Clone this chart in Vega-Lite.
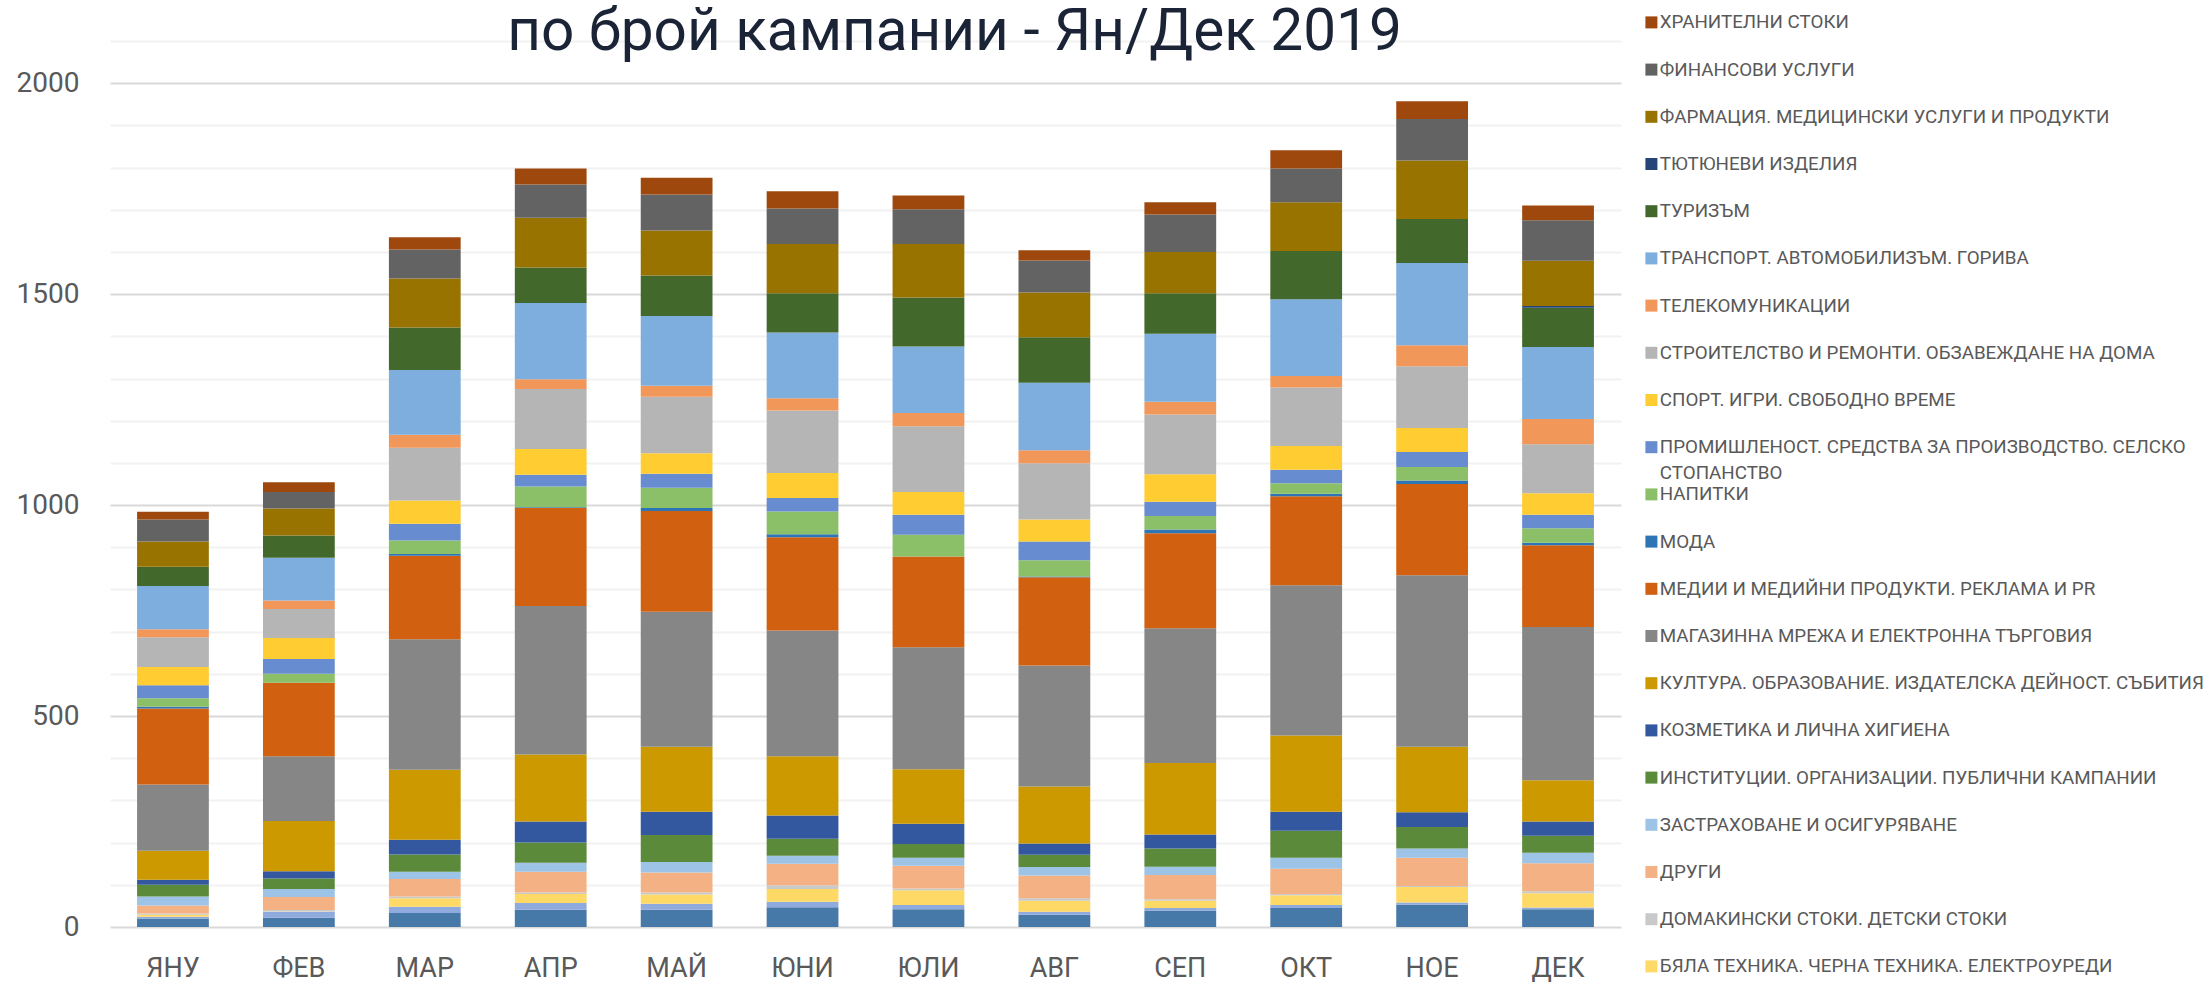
{"$schema":"https://vega.github.io/schema/vega-lite/v6.json","width":1511,"height":886,"autosize":{"type":"none"},"padding":{"left":110,"top":41,"right":585,"bottom":56},"background":"#ffffff","view":{"stroke":null},
"title":{"text":"по брой кампании - Ян/Дек 2019","anchor":"middle","frame":"group","dx":89,"offset":-95,"baseline":"alphabetic","font":"Roboto","fontSize":58.5,"fontWeight":"normal","color":"#1a2436"},
"datasets":{"series":[
{"s":1,"name":"СЕРИЯ А"},{"s":2,"name":"СЕРИЯ Б"},{"s":3,"name":"БЯЛА ТЕХНИКА. ЧЕРНА ТЕХНИКА. ЕЛЕКТРОУРЕДИ"},{"s":4,"name":"ДОМАКИНСКИ СТОКИ. ДЕТСКИ СТОКИ"},{"s":5,"name":"ДРУГИ"},{"s":6,"name":"ЗАСТРАХОВАНЕ И ОСИГУРЯВАНЕ"},{"s":7,"name":"ИНСТИТУЦИИ. ОРГАНИЗАЦИИ. ПУБЛИЧНИ КАМПАНИИ"},{"s":8,"name":"КОЗМЕТИКА И ЛИЧНА ХИГИЕНА"},{"s":9,"name":"КУЛТУРА. ОБРАЗОВАНИЕ. ИЗДАТЕЛСКА ДЕЙНОСТ. СЪБИТИЯ"},{"s":10,"name":"МАГАЗИННА МРЕЖА И ЕЛЕКТРОННА ТЪРГОВИЯ"},{"s":11,"name":"МЕДИИ И МЕДИЙНИ ПРОДУКТИ. РЕКЛАМА И PR"},{"s":12,"name":"МОДА"},{"s":13,"name":"НАПИТКИ"},{"s":14,"name":"ПРОМИШЛЕНОСТ. СРЕДСТВА ЗА ПРОИЗВОДСТВО. СЕЛСКО СТОПАНСТВО"},{"s":15,"name":"СПОРТ. ИГРИ. СВОБОДНО ВРЕМЕ"},{"s":16,"name":"СТРОИТЕЛСТВО И РЕМОНТИ. ОБЗАВЕЖДАНЕ НА ДОМА"},{"s":17,"name":"ТЕЛЕКОМУНИКАЦИИ"},{"s":18,"name":"ТРАНСПОРТ. АВТОМОБИЛИЗЪМ. ГОРИВА"},{"s":19,"name":"ТУРИЗЪМ"},{"s":20,"name":"ТЮТЮНЕВИ ИЗДЕЛИЯ"},{"s":21,"name":"ФАРМАЦИЯ. МЕДИЦИНСКИ УСЛУГИ И ПРОДУКТИ"},{"s":22,"name":"ФИНАНСОВИ УСЛУГИ"},{"s":23,"name":"ХРАНИТЕЛНИ СТОКИ"}]},
"data":{"values":[
{"m":"ЯНУ","s":1,"v":20},{"m":"ЯНУ","s":2,"v":4},{"m":"ЯНУ","s":3,"v":5},{"m":"ЯНУ","s":4,"v":3},{"m":"ЯНУ","s":5,"v":19},{"m":"ЯНУ","s":6,"v":21},{"m":"ЯНУ","s":7,"v":28},{"m":"ЯНУ","s":8,"v":12},{"m":"ЯНУ","s":9,"v":69},{"m":"ЯНУ","s":10,"v":157},{"m":"ЯНУ","s":11,"v":180},{"m":"ЯНУ","s":12,"v":4},{"m":"ЯНУ","s":13,"v":20},{"m":"ЯНУ","s":14,"v":31},{"m":"ЯНУ","s":15,"v":43},{"m":"ЯНУ","s":16,"v":71},{"m":"ЯНУ","s":17,"v":19},{"m":"ЯНУ","s":18,"v":102},{"m":"ЯНУ","s":19,"v":46},{"m":"ЯНУ","s":20,"v":0},{"m":"ЯНУ","s":21,"v":60},{"m":"ЯНУ","s":22,"v":52},{"m":"ЯНУ","s":23,"v":18},
{"m":"ФЕВ","s":1,"v":22},{"m":"ФЕВ","s":2,"v":14},{"m":"ФЕВ","s":3,"v":1},{"m":"ФЕВ","s":4,"v":3},{"m":"ФЕВ","s":5,"v":31},{"m":"ФЕВ","s":6,"v":19},{"m":"ФЕВ","s":7,"v":25},{"m":"ФЕВ","s":8,"v":17},{"m":"ФЕВ","s":9,"v":119},{"m":"ФЕВ","s":10,"v":154},{"m":"ФЕВ","s":11,"v":174},{"m":"ФЕВ","s":12,"v":0},{"m":"ФЕВ","s":13,"v":21},{"m":"ФЕВ","s":14,"v":35},{"m":"ФЕВ","s":15,"v":50},{"m":"ФЕВ","s":16,"v":69},{"m":"ФЕВ","s":17,"v":20},{"m":"ФЕВ","s":18,"v":101},{"m":"ФЕВ","s":19,"v":53},{"m":"ФЕВ","s":20,"v":0},{"m":"ФЕВ","s":21,"v":64},{"m":"ФЕВ","s":22,"v":39},{"m":"ФЕВ","s":23,"v":23},
{"m":"МАР","s":1,"v":33},{"m":"МАР","s":2,"v":15},{"m":"МАР","s":3,"v":20},{"m":"МАР","s":4,"v":4},{"m":"МАР","s":5,"v":42},{"m":"МАР","s":6,"v":17},{"m":"МАР","s":7,"v":41},{"m":"МАР","s":8,"v":35},{"m":"МАР","s":9,"v":166},{"m":"МАР","s":10,"v":309},{"m":"МАР","s":11,"v":198},{"m":"МАР","s":12,"v":4},{"m":"МАР","s":13,"v":32},{"m":"МАР","s":14,"v":40},{"m":"МАР","s":15,"v":55},{"m":"МАР","s":16,"v":125},{"m":"МАР","s":17,"v":31},{"m":"МАР","s":18,"v":153},{"m":"МАР","s":19,"v":101},{"m":"МАР","s":20,"v":0},{"m":"МАР","s":21,"v":116},{"m":"МАР","s":22,"v":69},{"m":"МАР","s":23,"v":29},
{"m":"АПР","s":1,"v":41},{"m":"АПР","s":2,"v":16},{"m":"АПР","s":3,"v":21},{"m":"АПР","s":4,"v":4},{"m":"АПР","s":5,"v":49},{"m":"АПР","s":6,"v":21},{"m":"АПР","s":7,"v":48},{"m":"АПР","s":8,"v":50},{"m":"АПР","s":9,"v":159},{"m":"АПР","s":10,"v":352},{"m":"АПР","s":11,"v":232},{"m":"АПР","s":12,"v":2},{"m":"АПР","s":13,"v":49},{"m":"АПР","s":14,"v":28},{"m":"АПР","s":15,"v":61},{"m":"АПР","s":16,"v":142},{"m":"АПР","s":17,"v":23},{"m":"АПР","s":18,"v":181},{"m":"АПР","s":19,"v":84},{"m":"АПР","s":20,"v":0},{"m":"АПР","s":21,"v":118},{"m":"АПР","s":22,"v":79},{"m":"АПР","s":23,"v":38},
{"m":"МАЙ","s":1,"v":41},{"m":"МАЙ","s":2,"v":14},{"m":"МАЙ","s":3,"v":22},{"m":"МАЙ","s":4,"v":5},{"m":"МАЙ","s":5,"v":47},{"m":"МАЙ","s":6,"v":25},{"m":"МАЙ","s":7,"v":64},{"m":"МАЙ","s":8,"v":55},{"m":"МАЙ","s":9,"v":154},{"m":"МАЙ","s":10,"v":320},{"m":"МАЙ","s":11,"v":239},{"m":"МАЙ","s":12,"v":7},{"m":"МАЙ","s":13,"v":48},{"m":"МАЙ","s":14,"v":33},{"m":"МАЙ","s":15,"v":49},{"m":"МАЙ","s":16,"v":134},{"m":"МАЙ","s":17,"v":26},{"m":"МАЙ","s":18,"v":165},{"m":"МАЙ","s":19,"v":96},{"m":"МАЙ","s":20,"v":0},{"m":"МАЙ","s":21,"v":107},{"m":"МАЙ","s":22,"v":85},{"m":"МАЙ","s":23,"v":40},
{"m":"ЮНИ","s":1,"v":47},{"m":"ЮНИ","s":2,"v":13},{"m":"ЮНИ","s":3,"v":30},{"m":"ЮНИ","s":4,"v":9},{"m":"ЮНИ","s":5,"v":51},{"m":"ЮНИ","s":6,"v":19},{"m":"ЮНИ","s":7,"v":40},{"m":"ЮНИ","s":8,"v":55},{"m":"ЮНИ","s":9,"v":141},{"m":"ЮНИ","s":10,"v":298},{"m":"ЮНИ","s":11,"v":221},{"m":"ЮНИ","s":12,"v":7},{"m":"ЮНИ","s":13,"v":54},{"m":"ЮНИ","s":14,"v":32},{"m":"ЮНИ","s":15,"v":59},{"m":"ЮНИ","s":16,"v":148},{"m":"ЮНИ","s":17,"v":29},{"m":"ЮНИ","s":18,"v":156},{"m":"ЮНИ","s":19,"v":93},{"m":"ЮНИ","s":20,"v":0},{"m":"ЮНИ","s":21,"v":117},{"m":"ЮНИ","s":22,"v":84},{"m":"ЮНИ","s":23,"v":41},
{"m":"ЮЛИ","s":1,"v":42},{"m":"ЮЛИ","s":2,"v":10},{"m":"ЮЛИ","s":3,"v":35},{"m":"ЮЛИ","s":4,"v":4},{"m":"ЮЛИ","s":5,"v":54},{"m":"ЮЛИ","s":6,"v":19},{"m":"ЮЛИ","s":7,"v":33},{"m":"ЮЛИ","s":8,"v":48},{"m":"ЮЛИ","s":9,"v":129},{"m":"ЮЛИ","s":10,"v":289},{"m":"ЮЛИ","s":11,"v":215},{"m":"ЮЛИ","s":12,"v":0},{"m":"ЮЛИ","s":13,"v":52},{"m":"ЮЛИ","s":14,"v":47},{"m":"ЮЛИ","s":15,"v":54},{"m":"ЮЛИ","s":16,"v":156},{"m":"ЮЛИ","s":17,"v":31},{"m":"ЮЛИ","s":18,"v":158},{"m":"ЮЛИ","s":19,"v":116},{"m":"ЮЛИ","s":20,"v":0},{"m":"ЮЛИ","s":21,"v":127},{"m":"ЮЛИ","s":22,"v":82},{"m":"ЮЛИ","s":23,"v":33},
{"m":"АВГ","s":1,"v":29},{"m":"АВГ","s":2,"v":7},{"m":"АВГ","s":3,"v":26},{"m":"АВГ","s":4,"v":6},{"m":"АВГ","s":5,"v":54},{"m":"АВГ","s":6,"v":20},{"m":"АВГ","s":7,"v":29},{"m":"АВГ","s":8,"v":27},{"m":"АВГ","s":9,"v":135},{"m":"АВГ","s":10,"v":287},{"m":"АВГ","s":11,"v":209},{"m":"АВГ","s":12,"v":2},{"m":"АВГ","s":13,"v":38},{"m":"АВГ","s":14,"v":45},{"m":"АВГ","s":15,"v":52},{"m":"АВГ","s":16,"v":133},{"m":"АВГ","s":17,"v":31},{"m":"АВГ","s":18,"v":160},{"m":"АВГ","s":19,"v":108},{"m":"АВГ","s":20,"v":0},{"m":"АВГ","s":21,"v":106},{"m":"АВГ","s":22,"v":76},{"m":"АВГ","s":23,"v":24},
{"m":"СЕП","s":1,"v":39},{"m":"СЕП","s":2,"v":6},{"m":"СЕП","s":3,"v":17},{"m":"СЕП","s":4,"v":4},{"m":"СЕП","s":5,"v":57},{"m":"СЕП","s":6,"v":20},{"m":"СЕП","s":7,"v":43},{"m":"СЕП","s":8,"v":33},{"m":"СЕП","s":9,"v":170},{"m":"СЕП","s":10,"v":319},{"m":"СЕП","s":11,"v":225},{"m":"СЕП","s":12,"v":9},{"m":"СЕП","s":13,"v":32},{"m":"СЕП","s":14,"v":34},{"m":"СЕП","s":15,"v":65},{"m":"СЕП","s":16,"v":142},{"m":"СЕП","s":17,"v":30},{"m":"СЕП","s":18,"v":161},{"m":"СЕП","s":19,"v":96},{"m":"СЕП","s":20,"v":0},{"m":"СЕП","s":21,"v":98},{"m":"СЕП","s":22,"v":89},{"m":"СЕП","s":23,"v":29},
{"m":"ОКТ","s":1,"v":45},{"m":"ОКТ","s":2,"v":7},{"m":"ОКТ","s":3,"v":23},{"m":"ОКТ","s":4,"v":3},{"m":"ОКТ","s":5,"v":60},{"m":"ОКТ","s":6,"v":26},{"m":"ОКТ","s":7,"v":64},{"m":"ОКТ","s":8,"v":45},{"m":"ОКТ","s":9,"v":181},{"m":"ОКТ","s":10,"v":356},{"m":"ОКТ","s":11,"v":211},{"m":"ОКТ","s":12,"v":6},{"m":"ОКТ","s":13,"v":25},{"m":"ОКТ","s":14,"v":32},{"m":"ОКТ","s":15,"v":56},{"m":"ОКТ","s":16,"v":139},{"m":"ОКТ","s":17,"v":27},{"m":"ОКТ","s":18,"v":182},{"m":"ОКТ","s":19,"v":114},{"m":"ОКТ","s":20,"v":0},{"m":"ОКТ","s":21,"v":116},{"m":"ОКТ","s":22,"v":80},{"m":"ОКТ","s":23,"v":43},
{"m":"НОЕ","s":1,"v":53},{"m":"НОЕ","s":2,"v":5},{"m":"НОЕ","s":3,"v":37},{"m":"НОЕ","s":4,"v":2},{"m":"НОЕ","s":5,"v":67},{"m":"НОЕ","s":6,"v":22},{"m":"НОЕ","s":7,"v":51},{"m":"НОЕ","s":8,"v":35},{"m":"НОЕ","s":9,"v":155},{"m":"НОЕ","s":10,"v":407},{"m":"НОЕ","s":11,"v":216},{"m":"НОЕ","s":12,"v":8},{"m":"НОЕ","s":13,"v":32},{"m":"НОЕ","s":14,"v":36},{"m":"НОЕ","s":15,"v":57},{"m":"НОЕ","s":16,"v":146},{"m":"НОЕ","s":17,"v":50},{"m":"НОЕ","s":18,"v":195},{"m":"НОЕ","s":19,"v":104},{"m":"НОЕ","s":20,"v":0},{"m":"НОЕ","s":21,"v":139},{"m":"НОЕ","s":22,"v":98},{"m":"НОЕ","s":23,"v":42},
{"m":"ДЕК","s":1,"v":42},{"m":"ДЕК","s":2,"v":4},{"m":"ДЕК","s":3,"v":34},{"m":"ДЕК","s":4,"v":5},{"m":"ДЕК","s":5,"v":66},{"m":"ДЕК","s":6,"v":25},{"m":"ДЕК","s":7,"v":40},{"m":"ДЕК","s":8,"v":34},{"m":"ДЕК","s":9,"v":98},{"m":"ДЕК","s":10,"v":363},{"m":"ДЕК","s":11,"v":194},{"m":"ДЕК","s":12,"v":6},{"m":"ДЕК","s":13,"v":34},{"m":"ДЕК","s":14,"v":32},{"m":"ДЕК","s":15,"v":51},{"m":"ДЕК","s":16,"v":116},{"m":"ДЕК","s":17,"v":60},{"m":"ДЕК","s":18,"v":171},{"m":"ДЕК","s":19,"v":93},{"m":"ДЕК","s":20,"v":4},{"m":"ДЕК","s":21,"v":107},{"m":"ДЕК","s":22,"v":96},{"m":"ДЕК","s":23,"v":35}
]},
"transform":[{"lookup":"s","from":{"data":{"name":"series"},"key":"s","fields":["name"]}}],
"mark":{"type":"bar"},
"encoding":{
"x":{"field":"m","type":"nominal","sort":["ЯНУ","ФЕВ","МАР","АПР","МАЙ","ЮНИ","ЮЛИ","АВГ","СЕП","ОКТ","НОЕ","ДЕК"],"scale":{"paddingInner":0.43,"paddingOuter":0.215},"axis":{"title":null,"labelAngle":0,"domain":false,"ticks":false,"labelPadding":28,"labelFont":"Roboto","labelFontSize":27,"labelColor":"#595959"}},
"y":{"field":"v","type":"quantitative","stack":"zero","scale":{"domain":[0,2100],"nice":false},"axis":{"title":null,"values":[0,100,200,300,400,500,600,700,800,900,1000,1100,1200,1300,1400,1500,1600,1700,1800,1900,2000,2100],"labelExpr":"datum.value % 500 === 0 ? datum.value : ''","domain":false,"ticks":false,"labelPadding":31,"labelFont":"Roboto","labelFontSize":28,"labelColor":"#595959","gridWidth":2,"gridColor":{"condition":{"test":"datum.value % 500 === 0","value":"#d9d9d9"},"value":"#f2f2f2"}}},
"order":{"field":"s","type":"quantitative"},
"opacity":{"datum":"СТОПАНСТВО","type":"nominal","scale":{"range":[1]},"legend":{"title":null,"orient":"none","legendX":1532,"legendY":423,"symbolSize":0,"symbolOpacity":0,"symbolStrokeWidth":0,"labelOffset":-1,"labelLimit":700,"labelFont":"Roboto","labelFontSize":18.8,"labelColor":"#595959"}},
"color":{"field":"name","type":"nominal","scale":{
"domain":["ХРАНИТЕЛНИ СТОКИ","ФИНАНСОВИ УСЛУГИ","ФАРМАЦИЯ. МЕДИЦИНСКИ УСЛУГИ И ПРОДУКТИ","ТЮТЮНЕВИ ИЗДЕЛИЯ","ТУРИЗЪМ","ТРАНСПОРТ. АВТОМОБИЛИЗЪМ. ГОРИВА","ТЕЛЕКОМУНИКАЦИИ","СТРОИТЕЛСТВО И РЕМОНТИ. ОБЗАВЕЖДАНЕ НА ДОМА","СПОРТ. ИГРИ. СВОБОДНО ВРЕМЕ","ПРОМИШЛЕНОСТ. СРЕДСТВА ЗА ПРОИЗВОДСТВО. СЕЛСКО СТОПАНСТВО","НАПИТКИ","МОДА","МЕДИИ И МЕДИЙНИ ПРОДУКТИ. РЕКЛАМА И PR","МАГАЗИННА МРЕЖА И ЕЛЕКТРОННА ТЪРГОВИЯ","КУЛТУРА. ОБРАЗОВАНИЕ. ИЗДАТЕЛСКА ДЕЙНОСТ. СЪБИТИЯ","КОЗМЕТИКА И ЛИЧНА ХИГИЕНА","ИНСТИТУЦИИ. ОРГАНИЗАЦИИ. ПУБЛИЧНИ КАМПАНИИ","ЗАСТРАХОВАНЕ И ОСИГУРЯВАНЕ","ДРУГИ","ДОМАКИНСКИ СТОКИ. ДЕТСКИ СТОКИ","БЯЛА ТЕХНИКА. ЧЕРНА ТЕХНИКА. ЕЛЕКТРОУРЕДИ","СЕРИЯ Б","СЕРИЯ А"],
"range":["#9e480e","#636363","#997300","#264478","#43682b","#7eaedd","#f2975a","#b5b5b5","#ffcc32","#678ccf","#8cc068","#2e75b6","#d16011","#868686","#cc9900","#3358a0","#5b8a3a","#9dc3e6","#f4b183","#c9c9c9","#ffd966","#8faadc","#4678a8"]},
"legend":{"title":null,"orient":"none","legendX":1532,"legendY":-28,"symbolType":"square","symbolSize":144,"symbolStrokeWidth":0,"symbolOpacity":1,"labelOffset":-1,"labelLimit":700,"labelFont":"Roboto","labelFontSize":18.8,"labelColor":"#595959","rowPadding":27.2,"columns":1,
"labelExpr":"replace(datum.label, ' СТОПАНСТВО', '')",
"values":["ХРАНИТЕЛНИ СТОКИ","ФИНАНСОВИ УСЛУГИ","ФАРМАЦИЯ. МЕДИЦИНСКИ УСЛУГИ И ПРОДУКТИ","ТЮТЮНЕВИ ИЗДЕЛИЯ","ТУРИЗЪМ","ТРАНСПОРТ. АВТОМОБИЛИЗЪМ. ГОРИВА","ТЕЛЕКОМУНИКАЦИИ","СТРОИТЕЛСТВО И РЕМОНТИ. ОБЗАВЕЖДАНЕ НА ДОМА","СПОРТ. ИГРИ. СВОБОДНО ВРЕМЕ","ПРОМИШЛЕНОСТ. СРЕДСТВА ЗА ПРОИЗВОДСТВО. СЕЛСКО СТОПАНСТВО","НАПИТКИ","МОДА","МЕДИИ И МЕДИЙНИ ПРОДУКТИ. РЕКЛАМА И PR","МАГАЗИННА МРЕЖА И ЕЛЕКТРОННА ТЪРГОВИЯ","КУЛТУРА. ОБРАЗОВАНИЕ. ИЗДАТЕЛСКА ДЕЙНОСТ. СЪБИТИЯ","КОЗМЕТИКА И ЛИЧНА ХИГИЕНА","ИНСТИТУЦИИ. ОРГАНИЗАЦИИ. ПУБЛИЧНИ КАМПАНИИ","ЗАСТРАХОВАНЕ И ОСИГУРЯВАНЕ","ДРУГИ","ДОМАКИНСКИ СТОКИ. ДЕТСКИ СТОКИ","БЯЛА ТЕХНИКА. ЧЕРНА ТЕХНИКА. ЕЛЕКТРОУРЕДИ"]}}
}}
